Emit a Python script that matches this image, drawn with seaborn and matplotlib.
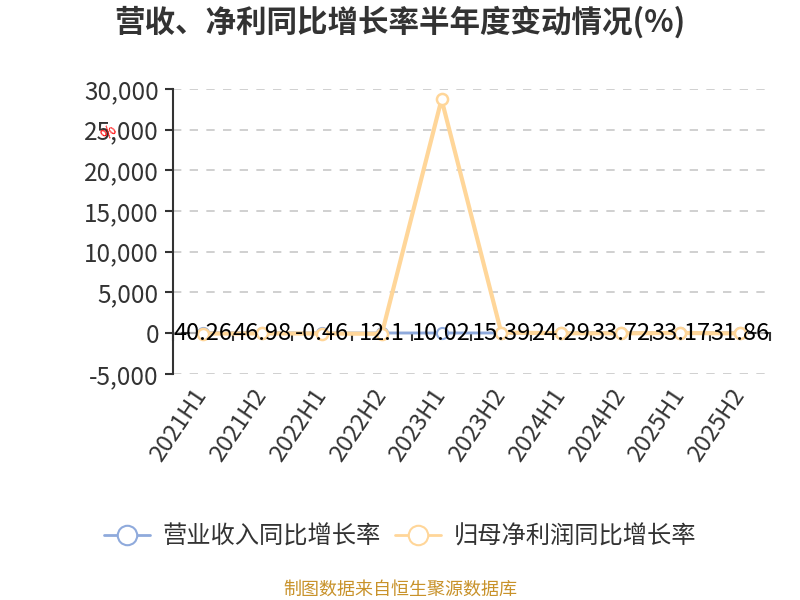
import pandas as pd
import matplotlib.pyplot as plt
import matplotlib.transforms as mtransforms
import seaborn as sns
from matplotlib.lines import Line2D

# data
periods = ["2021H1", "2021H2", "2022H1", "2022H2", "2023H1",
           "2023H2", "2024H1", "2024H2", "2025H1", "2025H2"]
revenue_yoy = [40.26, 46.98, -0.46, 12.1, 10.02, 15.39, 24.29, 33.72, 33.17, 31.86]
profit_yoy = [-60, -40, -55, -90, 28700, 60, -20, -30, 10, -40]
yticks = [-5000, 0, 5000, 10000, 15000, 20000, 25000, 30000]

blue = "#8FAADC"
orange = "#FFD699"

sns.set_theme(style="white")
plt.rcParams["font.family"] = ["Noto Sans CJK SC", "DejaVu Sans"]
plt.rcParams["axes.unicode_minus"] = False

df = pd.DataFrame({"period": periods, "revenue": revenue_yoy, "profit": profit_yoy})
df["pos"] = range(len(periods))

fig = plt.figure(figsize=(8, 6), dpi=100)
ax = fig.add_axes([0.216, 0.377, 0.7465, 0.475])

sns.lineplot(data=df, x="pos", y="revenue", ax=ax, color=blue, linewidth=2,
             marker="o", markersize=8, markerfacecolor="white",
             markeredgecolor=blue, markeredgewidth=1.5, zorder=3)
sns.lineplot(data=df, x="pos", y="profit", ax=ax, color=orange, linewidth=3,
             marker="o", markersize=8, markerfacecolor="white",
             markeredgecolor=orange, markeredgewidth=1.8, zorder=4)

ax.set_xlim(-0.5, len(periods) - 0.5)
ax.set_ylim(-5000, 30000)
ax.set_yticks(yticks)
ax.set_yticklabels([f"{v:,}" for v in yticks], fontsize=17.5, color="#333333")
ax.set_xticks(df["pos"])
ax.set_xticklabels(periods, rotation=56, ha="right", rotation_mode="anchor",
                   fontsize=17, color="#333333")
ax.tick_params(axis="x", length=0, pad=8)
ax.tick_params(axis="y", length=6, width=1.5, color="#333333", left=True, pad=4)
ax.set_xlabel("")
ax.set_ylabel("")

# nudge rotated labels left
shift = mtransforms.ScaledTranslation(-10 / 100, 0, fig.dpi_scale_trans)
for lbl in ax.get_xticklabels():
    lbl.set_transform(lbl.get_transform() + shift)

ax.grid(axis="y", linestyle=(0, (5, 5)), color="#C8C8C8", linewidth=1.2)
ax.set_axisbelow(True)
for s in ["top", "right", "bottom"]:
    ax.spines[s].set_visible(False)
ax.spines["left"].set_color("#333333")
ax.spines["left"].set_linewidth(1.5)

# zero line with category boundary ticks
zero_frac = 5000 / 35000
sec = ax.secondary_xaxis(zero_frac)
sec.set_xticks([i - 0.5 for i in range(len(periods) + 1)])
sec.set_xticklabels([])
sec.tick_params(length=6, width=1.5, color="#333333", direction="out")
sec.spines["bottom"].set_color("#333333")
sec.spines["bottom"].set_linewidth(1.5)

# value labels
for i, v in enumerate(revenue_yoy):
    ax.text(i, 0, f"{v:g}", ha="center", va="center", fontsize=17,
            color="black", zorder=6)

fig.text(0.5, 0.963, "营收、净利同比增长率半年度变动情况(%)", ha="center",
         va="center", fontsize=22, fontweight="bold", color="#333333")
fig.text(0.137, 0.778, "%", rotation=45, ha="center", va="center",
         fontsize=11, color="red")

handles = [
    Line2D([], [], color=blue, linewidth=2, marker="o", markersize=14,
           markerfacecolor="white", markeredgecolor=blue, markeredgewidth=1.5),
    Line2D([], [], color=orange, linewidth=2, marker="o", markersize=14,
           markerfacecolor="white", markeredgecolor=orange, markeredgewidth=1.5),
]
fig.legend(handles, ["营业收入同比增长率", "归母净利润同比增长率"],
           loc="center", bbox_to_anchor=(0.5, 0.105), ncol=2, frameon=False,
           fontsize=17.5, handlelength=1.9, columnspacing=0.6, handletextpad=0.5,
           labelcolor="#333333")

fig.text(0.5, 0.017, "制图数据来自恒生聚源数据库", ha="center", va="center",
         fontsize=13, color="#C8922A")

fig.savefig("out.png", dpi=100)
